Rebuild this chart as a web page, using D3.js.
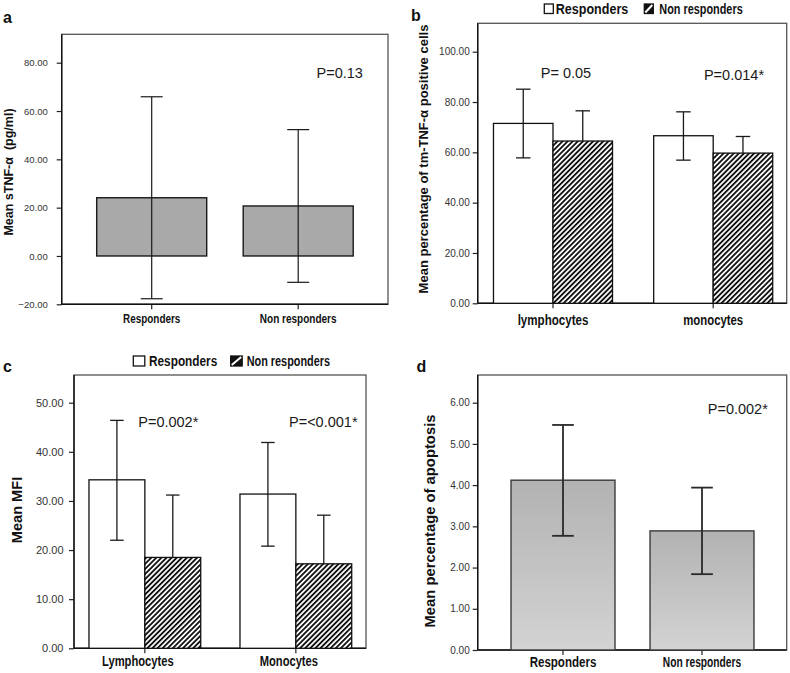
<!DOCTYPE html>
<html><head><meta charset="utf-8">
<script src="https://cdn.jsdelivr.net/npm/d3@7"></script>
<style>
body{margin:0;background:#fff}
svg{display:block}
text{font-family:"Liberation Sans",Arial,sans-serif}
.narrow{font-family:"Liberation Sans",Arial,sans-serif;font-weight:bold}
</style>
</head><body>
<svg id="chart" width="790" height="673"></svg>
<script>
// ---------- data ----------
const seriesNames = ["Responders", "Non responders"];

const aCategories = ["Responders", "Non responders"];
const aMeans = [24.1, 20.7];
const aUpper = [65.9, 52.3];
const aLower = [-17.7, -10.9];
const aTicks = [-20, 0, 20, 40, 60, 80];
const aP = ["P=0.13"];

const bGroups = ["lymphocytes", "monocytes"];
const bRespMeans = [71.5, 66.6];
const bRespUpper = [85.1, 76.1];
const bRespLower = [57.8, 56.9];
const bNonMeans = [64.5, 59.7];
const bNonUpper = [76.5, 66.3];
const bNonLower = [52.5, 53.1];
const bTicks = [0, 20, 40, 60, 80, 100];
const bP = ["P= 0.05", "P=0.014*"];

const cGroups = ["Lymphocytes", "Monocytes"];
const cRespMeans = [34.3, 31.4];
const cRespUpper = [46.4, 41.9];
const cRespLower = [22.0, 20.8];
const cNonMeans = [18.5, 17.2];
const cNonUpper = [31.2, 27.1];
const cNonLower = [5.8, 7.3];
const cTicks = [0, 10, 20, 30, 40, 50];
const cP = ["P=0.002*", "P=<0.001*"];

const dCategories = ["Responders", "Non responders"];
const dMeans = [4.12, 2.89];
const dUpper = [5.46, 3.94];
const dLower = [2.77, 1.84];
const dTicks = [0, 1, 2, 3, 4, 5, 6];
const dP = ["P=0.002*"];

// ---------- drawing ----------
const svg = d3.select("#chart");
const defs = svg.append("defs");
const pat = defs.append("pattern").attr("id", "hatch")
  .attr("patternUnits", "userSpaceOnUse").attr("width", 3.6).attr("height", 3.6)
  .attr("patternTransform", "rotate(45)");
pat.append("rect").attr("width", 3.6).attr("height", 3.6).attr("fill", "#fff");
pat.append("line").attr("x1", 0.9).attr("y1", 0).attr("x2", 0.9).attr("y2", 3.6)
  .attr("stroke", "#111").attr("stroke-width", 1.9);
const grad = defs.append("linearGradient").attr("id", "gradD")
  .attr("x1", 0).attr("y1", 0).attr("x2", 0).attr("y2", 1);
grad.append("stop").attr("offset", "0%").attr("stop-color", "#b2b2b2");
grad.append("stop").attr("offset", "100%").attr("stop-color", "#d3d3d3");

const fmt = d3.format(".2f");

function fit(sel, w) {
  sel.attr("textLength", w).attr("lengthAdjust", "spacingAndGlyphs");
}

function frameAndAxes(o) {
  const g = svg.append("g");
  g.append("rect").attr("x", o.x0).attr("y", o.y0)
    .attr("width", o.x1 - o.x0).attr("height", o.y1 - o.y0)
    .attr("fill", "none").attr("stroke", "#555").attr("stroke-width", 1.3);
  const ya = g.append("g").attr("transform", `translate(${o.x0},0)`)
    .call(d3.axisLeft(o.y).tickValues(o.ticks).tickFormat(fmt)
      .tickSize(5).tickSizeOuter(0).tickPadding(o.tickPad));
  ya.select(".domain").remove();
  ya.selectAll(".tick line").attr("stroke", "#222").attr("stroke-width", 1.2);
  ya.selectAll(".tick text").attr("font-family", "Liberation Sans, Arial, sans-serif")
    .attr("font-size", o.tickFont).attr("fill", "#333");
  const xa = g.append("g").attr("transform", `translate(0,${o.y1})`)
    .call(d3.axisBottom(o.x).tickSize(5).tickSizeOuter(0));
  xa.select(".domain").remove();
  xa.selectAll(".tick line").attr("stroke", "#222").attr("stroke-width", 1.2);
  xa.selectAll(".tick text").attr("class", "narrow").attr("font-family", null)
    .attr("font-size", o.catFont).attr("fill", "#111")
    .attr("y", o.catBase - o.y1).attr("dy", 0).attr("dx", o.catDx || 0)
    .each(function (d, i) { fit(d3.select(this), o.catW[i]); });
  g.append("line").attr("x1", o.x0).attr("x2", o.x0).attr("y1", o.y0).attr("y2", o.y1)
    .attr("stroke", "#111").attr("stroke-width", 1.4);
  g.append("line").attr("x1", o.x0).attr("x2", o.x1).attr("y1", o.y1).attr("y2", o.y1)
    .attr("stroke", "#111").attr("stroke-width", 1.4);
  // panel letter
  g.append("text").attr("x", o.letterX).attr("y", o.letterY).text(o.letter)
    .attr("font-weight", "bold").attr("font-size", 16).attr("fill", "#111");
  // y title
  g.append("text").attr("transform", `translate(${o.titleX},${o.titleY}) rotate(-90)`)
    .attr("text-anchor", "middle").attr("dy", "0.35em")
    .style("white-space", "pre")
    .attr("font-weight", "bold").attr("font-size", o.titleFont).attr("fill", "#111")
    .text(o.title);
  return g;
}

function errorBars(g, items, y, capW, color, width) {
  const eb = g.append("g").attr("stroke", color).attr("stroke-width", width);
  items.forEach(d => {
    eb.append("line").attr("x1", d.cx).attr("x2", d.cx).attr("y1", y(d.lo)).attr("y2", y(d.hi));
    eb.append("line").attr("x1", d.cx - capW / 2).attr("x2", d.cx + capW / 2).attr("y1", y(d.hi)).attr("y2", y(d.hi));
    eb.append("line").attr("x1", d.cx - capW / 2).attr("x2", d.cx + capW / 2).attr("y1", y(d.lo)).attr("y2", y(d.lo));
  });
}

function pLabels(g, texts, pos) {
  texts.forEach((t, i) => {
    g.append("text").attr("x", pos[i][0]).attr("y", pos[i][1]).attr("dy", "0.35em")
      .attr("text-anchor", "middle").attr("font-size", 14.5).attr("fill", "#1a1a1a").text(t);
  });
}

function legend(g, o) {
  const f = o.font;
  g.append("rect").attr("x", o.x1).attr("y", o.by).attr("width", o.bw).attr("height", o.bh)
    .attr("fill", "#fff").attr("stroke", "#111").attr("stroke-width", 1.3);
  fit(g.append("text").attr("class", "narrow").attr("x", o.t1).attr("y", o.base)
    .attr("font-size", f).attr("fill", "#111").text(seriesNames[0]), o.w1);
  g.append("rect").attr("x", o.x2).attr("y", o.by).attr("width", o.bw).attr("height", o.bh)
    .attr("fill", "#111").attr("stroke", "#111").attr("stroke-width", 1.3);
  g.append("line").attr("x1", o.x2 + 1).attr("y1", o.by + o.bh - 1).attr("x2", o.x2 + o.bw - 1).attr("y2", o.by + 1)
    .attr("stroke", "#fff").attr("stroke-width", 2);
  fit(g.append("text").attr("class", "narrow").attr("x", o.t2).attr("y", o.base)
    .attr("font-size", f).attr("fill", "#111").text(seriesNames[1]), o.w2);
}

function groupedBars(g, groups, x, xs, y, series, capW) {
  const rect = (s, grp, i) => g.append("rect").attr("x", x(grp) + xs(s.name)).attr("width", xs.bandwidth())
    .attr("y", y(s.m[i])).attr("height", y(0) - y(s.m[i]))
    .attr("fill", s.fill).attr("stroke", "#111").attr("stroke-width", 1.3);
  const items = s => groups.map((grp, i) => ({cx: x(grp) + xs(s.name) + xs.bandwidth() / 2, lo: s.lo[i], hi: s.hi[i]}));
  // white bars, their error bars, then non-responder error bars covered by hatched bars
  groups.forEach((grp, i) => rect(series[0], grp, i));
  errorBars(g, items(series[0]), y, capW, "#1a1a1a", 1.3);
  errorBars(g, items(series[1]), y, capW, "#1a1a1a", 1.3);
  groups.forEach((grp, i) => rect(series[1], grp, i));
}

// ----- panel a -----
(function () {
  const y = d3.scaleLinear().domain([-20, 80]).range([304.3, 62.7]);
  const x = d3.scaleBand().domain(aCategories).range([78.45, 371.45])
    .paddingInner(0.249).paddingOuter(0.1245);
  const g = frameAndAxes({x0: 61.7, x1: 388, y0: 34.3, y1: 304.3, y, x, ticks: aTicks,
    tickPad: 9, tickFont: 9.5, catFont: 13, catBase: 323.5, catW: [57.3, 76.7],
    letter: "a", letterX: 3, letterY: 22.5,
    title: "Mean sTNF-\u03b1  (pg/ml)", titleX: 9, titleY: 172, titleFont: 12.5});
  g.selectAll(".bar").data(aCategories).join("rect").attr("class", "bar")
    .attr("x", d => x(d)).attr("width", x.bandwidth())
    .attr("y", (d, i) => y(aMeans[i])).attr("height", (d, i) => y(0) - y(aMeans[i]))
    .attr("fill", "#a9a9a9").attr("stroke", "#1a1a1a").attr("stroke-width", 1.4);
  errorBars(g, aCategories.map((d, i) => ({cx: x(d) + x.bandwidth() / 2, lo: aLower[i], hi: aUpper[i]})),
    y, 22, "#1a1a1a", 1.2);
  pLabels(g, aP, [[339.7, 72.7]]);
})();

// ----- panel b -----
(function () {
  const y = d3.scaleLinear().domain([0, 100]).range([303.3, 51.7]);
  const x = d3.scaleBand().domain(bGroups).range([472.9, 793.3])
    .paddingInner(0.257).paddingOuter(0.1285);
  const xs = d3.scaleBand().domain(seriesNames).range([0, x.bandwidth()]).padding(0);
  const g = frameAndAxes({x0: 477.7, x1: 786.7, y0: 23.3, y1: 303.3, y, x, ticks: bTicks,
    tickPad: 3, tickFont: 10, catFont: 14, catBase: 325, catW: [70.7, 60],
    letter: "b", letterX: 411, letterY: 20.5,
    title: "Mean percentage of tm-TNF-\u03b1 positive cells", titleX: 423, titleY: 159, titleFont: 13});
  groupedBars(g, bGroups, x, xs, y, [
    {name: seriesNames[0], m: bRespMeans, hi: bRespUpper, lo: bRespLower, fill: "#fff"},
    {name: seriesNames[1], m: bNonMeans, hi: bNonUpper, lo: bNonLower, fill: "url(#hatch)"}], 14.5);
  pLabels(g, bP, [[566, 73.3], [734, 75]]);
  legend(g, {x1: 544.3, x2: 644.3, by: 4, bw: 9, bh: 9.5, t1: 555.7, t2: 659.3, base: 14, font: 15,
    w1: 72.6, w2: 83.4});
})();

// ----- panel c -----
(function () {
  const y = d3.scaleLinear().domain([0, 50]).range([648.3, 402.7]);
  const x = d3.scaleBand().domain(cGroups).range([69.35, 371.35])
    .paddingInner(0.26).paddingOuter(0.13);
  const xs = d3.scaleBand().domain(seriesNames).range([0, x.bandwidth()]).padding(0);
  const g = frameAndAxes({x0: 74, x1: 366, y0: 375, y1: 648.3, y, x, ticks: cTicks,
    tickPad: 5.5, tickFont: 11, catFont: 14, catBase: 666, catDx: -7, catW: [71.7, 58.3],
    letter: "c", letterX: 3, letterY: 371.5,
    title: "Mean MFI", titleX: 16.7, titleY: 510, titleFont: 14.6});
  groupedBars(g, cGroups, x, xs, y, [
    {name: seriesNames[0], m: cRespMeans, hi: cRespUpper, lo: cRespLower, fill: "#fff"},
    {name: seriesNames[1], m: cNonMeans, hi: cNonUpper, lo: cNonLower, fill: "url(#hatch)"}], 13.5);
  pLabels(g, cP, [[168.3, 422.3], [323.3, 422]]);
  legend(g, {x1: 133.3, x2: 230.7, by: 356, bw: 11.5, bh: 10, t1: 149, t2: 246.7, base: 366, font: 14.5,
    w1: 68.3, w2: 83.3});
})();

// ----- panel d -----
(function () {
  const y = d3.scaleLinear().domain([0, 6]).range([650, 402.7]);
  const x = d3.scaleBand().domain(dCategories).range([493.5, 771.5])
    .paddingInner(0.252).paddingOuter(0.126);
  const g = frameAndAxes({x0: 477.7, x1: 786.7, y0: 375, y1: 650, y, x, ticks: dTicks,
    tickPad: 3, tickFont: 10, catFont: 14.5, catBase: 666.5, catW: [66.7, 78.3],
    letter: "d", letterX: 416.5, letterY: 371.5,
    title: "Mean percentage of apoptosis", titleX: 430, titleY: 521, titleFont: 14.8});
  g.selectAll(".bar").data(dCategories).join("rect").attr("class", "bar")
    .attr("x", d => x(d)).attr("width", x.bandwidth())
    .attr("y", (d, i) => y(dMeans[i])).attr("height", (d, i) => y(0) - y(dMeans[i]))
    .attr("fill", "url(#gradD)").attr("stroke", "#3a3a3a").attr("stroke-width", 1.4);
  errorBars(g, dCategories.map((d, i) => ({cx: x(d) + x.bandwidth() / 2, lo: dLower[i], hi: dUpper[i]})),
    y, 21.7, "#2a2a2a", 1.8);
  pLabels(g, dP, [[737.8, 409]]);
})();
</script>
</body></html>
